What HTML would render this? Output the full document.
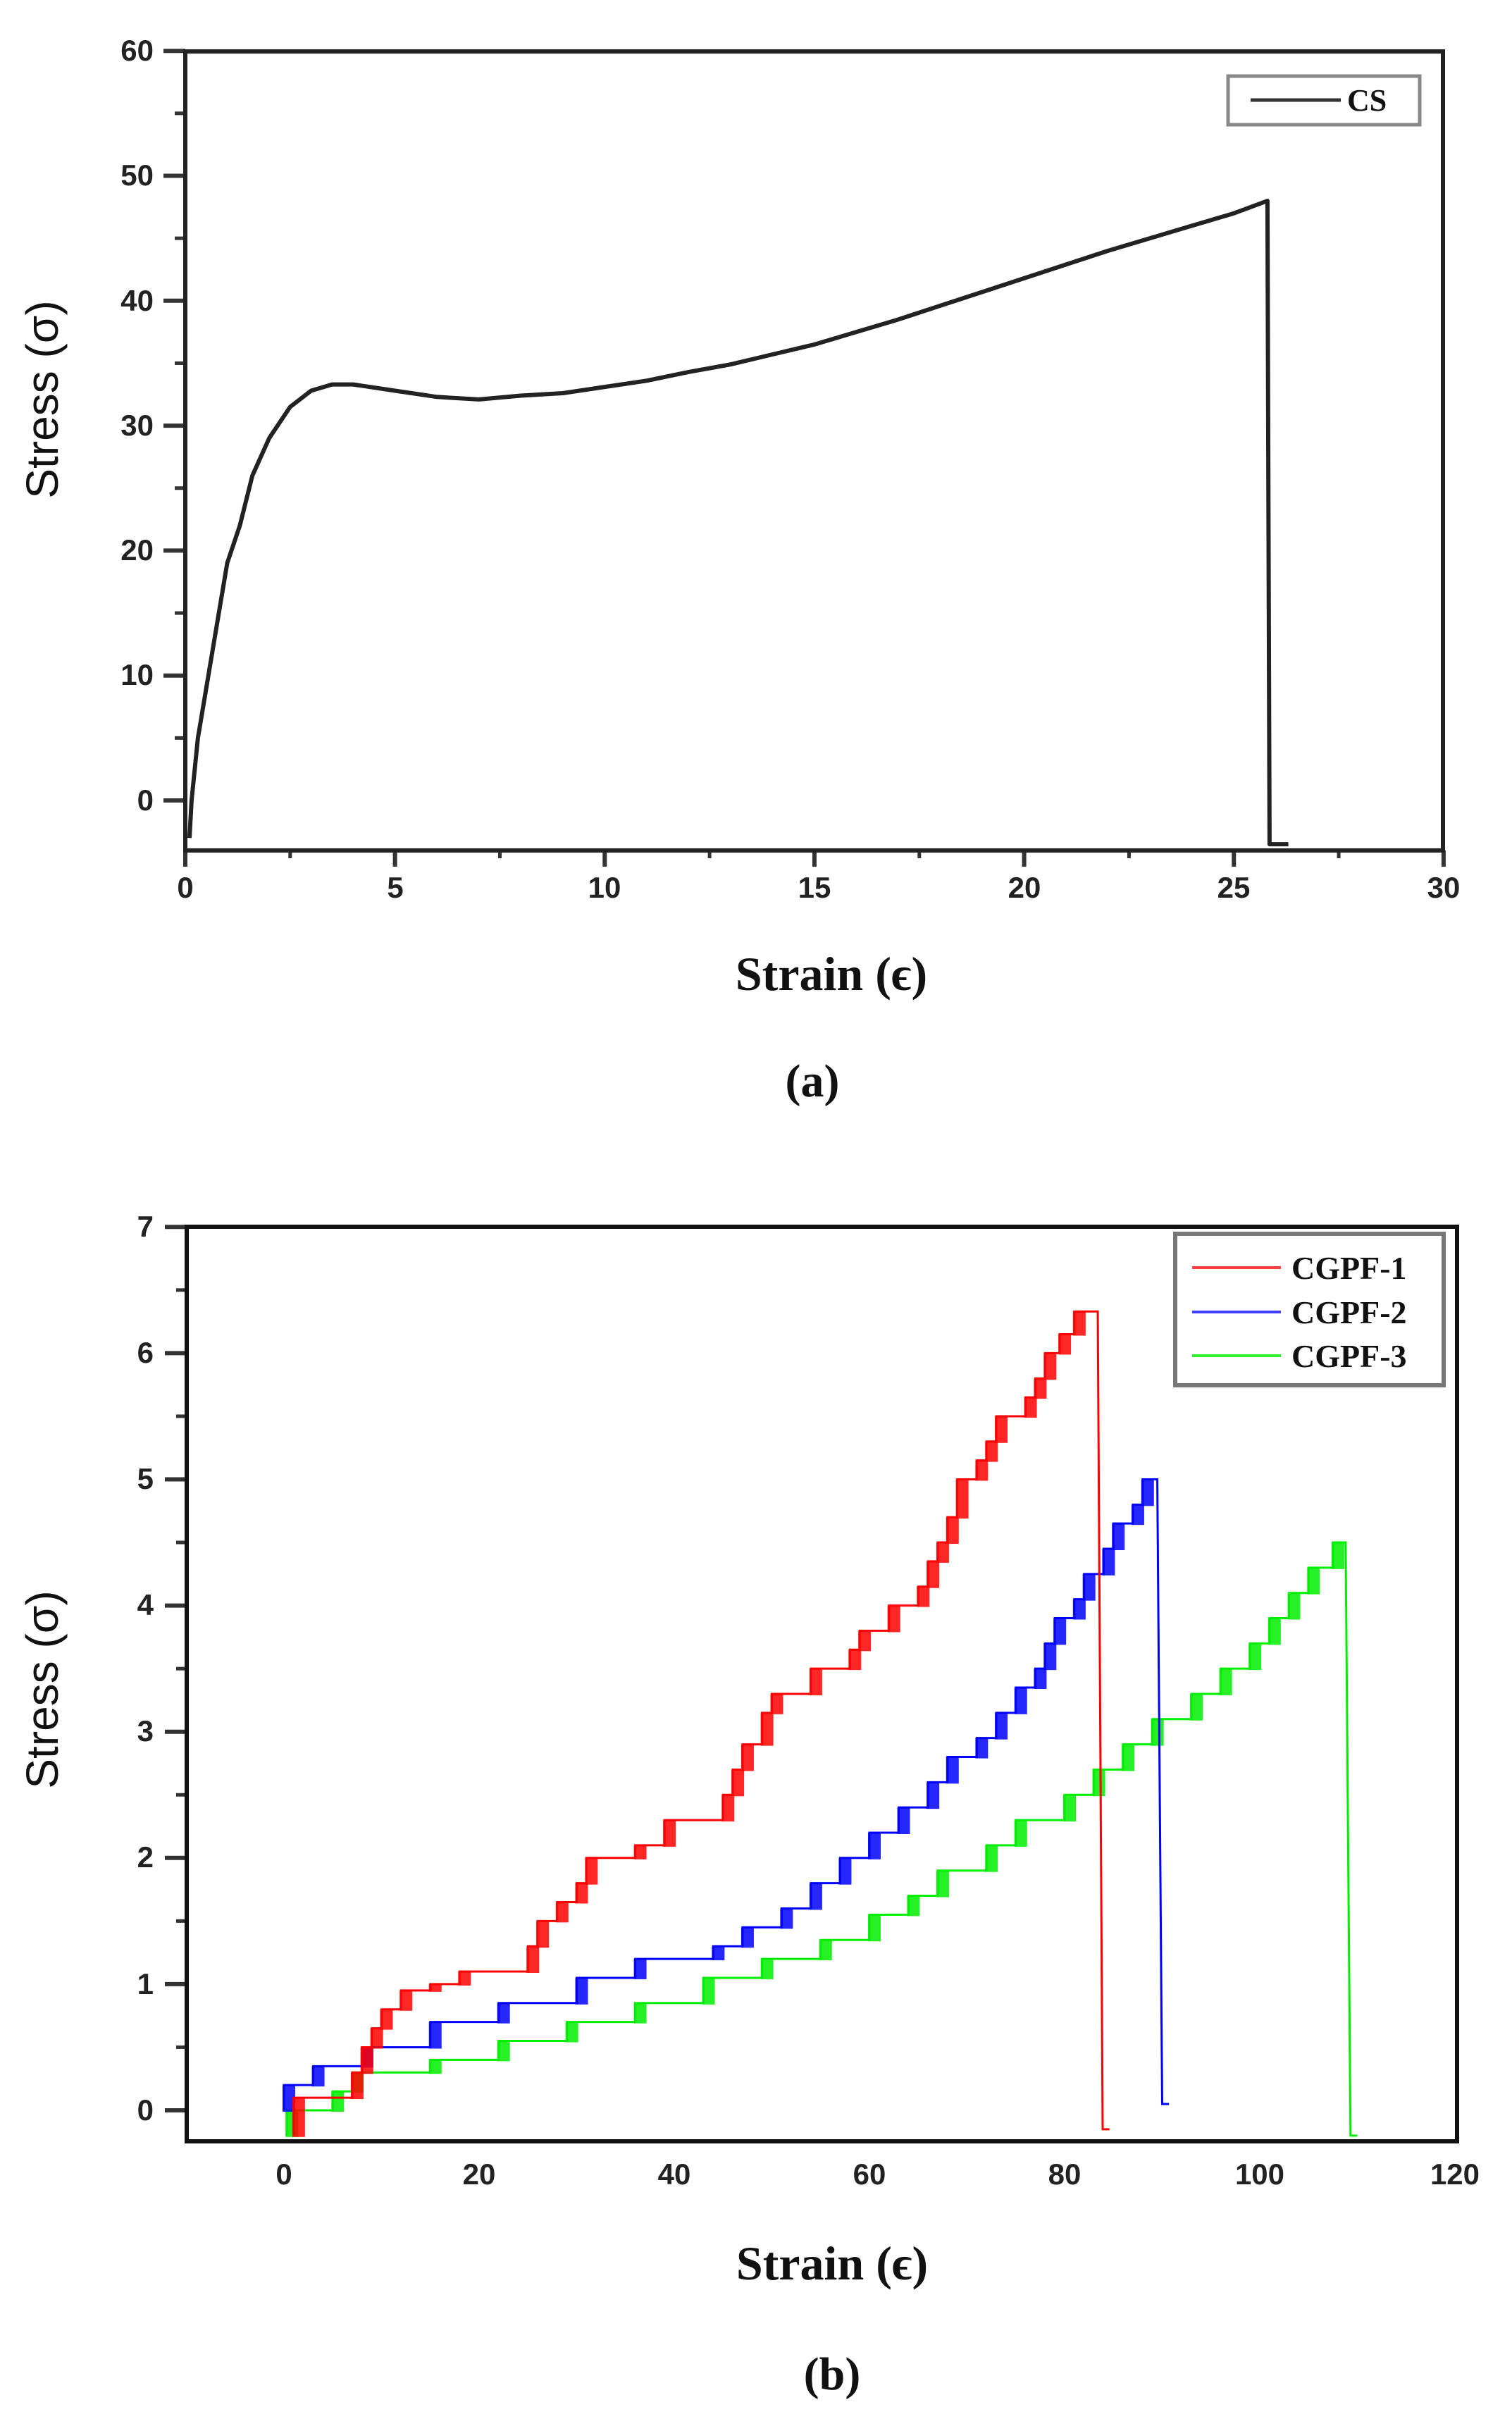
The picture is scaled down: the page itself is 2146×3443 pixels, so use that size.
<!DOCTYPE html>
<html><head><meta charset="utf-8"><style>
html,body{margin:0;padding:0;background:#fff}
svg{display:block}
.t{font-family:"Liberation Sans",Arial,sans-serif;font-weight:bold;font-size:42px;fill:#222}
.s{font-family:"Liberation Serif",serif;font-weight:bold;fill:#111}
</style></head><body>
<svg id="sv" width="2146" height="3443" viewBox="0 0 2146 3443" xmlns="http://www.w3.org/2000/svg">
<rect width="2146" height="3443" fill="#fff"/>
<g id="ga"></g>
<rect x="263" y="73" width="1785" height="1134" fill="none" stroke="#222" stroke-width="6"/>
<g class="t" text-anchor="end">
<text x="218" y="86">60</text><text x="218" y="263">50</text><text x="218" y="441">40</text>
<text x="218" y="618">30</text><text x="218" y="795">20</text><text x="218" y="972">10</text><text x="218" y="1150">0</text>
</g>
<g class="t" text-anchor="middle">
<text x="263" y="1274">0</text><text x="561" y="1274">5</text><text x="858" y="1274">10</text>
<text x="1156" y="1274">15</text><text x="1454" y="1274">20</text><text x="1751" y="1274">25</text><text x="2049" y="1274">30</text>
</g>
<rect x="1743" y="108" width="272" height="69" fill="#fff" stroke="#888" stroke-width="5"/>
<line x1="1775" y1="142" x2="1903" y2="142" stroke="#333" stroke-width="5"/>
<text class="s" x="1912" y="157" font-size="44">CS</text>
<text x="65" y="567" transform="rotate(-90 65 567)" text-anchor="middle" dominant-baseline="middle" font-family="Liberation Sans,Arial,sans-serif" font-size="64" fill="#111">Stress (σ)</text>
<text class="s" x="1180" y="1405" font-size="68" text-anchor="middle">Strain (ϵ)</text>
<text class="s" x="1153" y="1556" font-size="66" text-anchor="middle">(a)</text>

<g id="gb"></g>
<rect x="265" y="1741" width="1803" height="1298" fill="none" stroke="#111" stroke-width="6"/>
<g class="t" text-anchor="end">
<text x="218" y="1755">7</text><text x="218" y="1934">6</text><text x="218" y="2113">5</text><text x="218" y="2292">4</text>
<text x="218" y="2471">3</text><text x="218" y="2650">2</text><text x="218" y="2830">1</text><text x="218" y="3009">0</text>
</g>
<g class="t" text-anchor="middle">
<text x="403" y="3100">0</text><text x="680" y="3100">20</text><text x="957" y="3100">40</text><text x="1234" y="3100">60</text>
<text x="1511" y="3100">80</text><text x="1788" y="3100">100</text><text x="2065" y="3100">120</text>
</g>
<rect x="1668" y="1751" width="381" height="215" fill="#fff" stroke="#777" stroke-width="6"/>
<line x1="1692" y1="1799" x2="1818" y2="1799" stroke="#ff4040" stroke-width="4"/>
<line x1="1692" y1="1862" x2="1818" y2="1862" stroke="#4040ff" stroke-width="4"/>
<line x1="1692" y1="1924" x2="1818" y2="1924" stroke="#30ee30" stroke-width="4"/>
<g class="s" font-size="46"><text x="1833" y="1815">CGPF-1</text><text x="1833" y="1878">CGPF-2</text><text x="1833" y="1940">CGPF-3</text></g>
<text x="65" y="2398" transform="rotate(-90 65 2398)" text-anchor="middle" dominant-baseline="middle" font-family="Liberation Sans,Arial,sans-serif" font-size="64" fill="#111">Stress (σ)</text>
<text class="s" x="1181" y="3235" font-size="68" text-anchor="middle">Strain (ϵ)</text>
<text class="s" x="1181" y="3391" font-size="66" text-anchor="middle">(b)</text>
</svg>
<script>
var NS="http://www.w3.org/2000/svg";
function el(g,n,a){var e=document.createElementNS(NS,n);for(var k in a)e.setAttribute(k,a[k]);g.appendChild(e);return e;}
var ga=document.getElementById('ga');
function XA(x){return 263+59.53*x} function YA(y){return 1136-17.73*y}
for(var v=0;v<=60;v+=5){var big=v%10==0;el(ga,'line',{x1:big?232:248,x2:263,y1:YA(v),y2:YA(v),stroke:'#333','stroke-width':big?6:5});}
for(var v=0;v<=30;v+=2.5){var big=v%5==0;el(ga,'line',{x1:XA(v),x2:XA(v),y1:1207,y2:big?1230:1218,stroke:'#333','stroke-width':big?6:5});}
var cs=[[0.1,-3],[0.15,0],[0.3,5],[0.5,9],[0.8,15],[1.0,19],[1.3,22],[1.6,26],[2.0,29],[2.5,31.5],[3,32.8],[3.5,33.3],[4,33.3],[5,32.8],[6,32.3],[7,32.1],[8,32.4],[9,32.6],[10,33.1],[11,33.6],[12,34.3],[13,34.9],[14,35.7],[15,36.5],[16,37.5],[17,38.5],[18,39.6],[19,40.7],[20,41.8],[21,42.9],[22,44],[23,45],[24,46],[25,47],[25.8,48],[25.85,-3.5],[26.3,-3.5]];
el(ga,'polyline',{points:cs.map(function(p){return XA(p[0]).toFixed(1)+','+YA(p[1]).toFixed(1)}).join(' '),fill:'none',stroke:'#222','stroke-width':6,'stroke-linejoin':'round'});
var gb=document.getElementById('gb');
function XB(x){return 403+13.85*x} function YB(y){return 2995-179.1*y}
for(var v=0;v<=7;v+=0.5){var big=Math.abs(v-Math.round(v))<0.01;el(gb,'line',{x1:big?234:250,x2:265,y1:YB(v),y2:YB(v),stroke:'#333','stroke-width':big?6:5});}
function steps(pts,col,x0,y0,xd,yend,blk){
  var d='M'+XB(x0)+','+YB(y0),cx=x0,cy=y0;
  pts.forEach(function(p,i){
    var xs=p[0],ye=p[1];
    d+=' L'+XB(xs)+','+YB(cy)+' L'+XB(xs)+','+YB(ye);
    if(blk && i%blk==0){el(gb,'rect',{x:XB(xs)-2,y:YB(ye),width:18,height:Math.abs(YB(cy)-YB(ye))+2,fill:col,opacity:0.85});}
    cx=xs;cy=ye;
  });
  d+=' L'+XB(xd)+','+YB(cy)+' L'+XB(xd+0.5)+','+YB(yend)+' L'+XB(xd+1.2)+','+YB(yend);
  el(gb,'path',{d:d,fill:'none',stroke:col,'stroke-width':3});
}
var red=[[1,0.1],[7,0.3],[8,0.5],[9,0.65],[10,0.8],[12,0.95],[15,1.0],[18,1.1],[25,1.3],[26,1.5],[28,1.65],[30,1.8],[31,2.0],[36,2.1],[39,2.3],[45,2.5],[46,2.7],[47,2.9],[49,3.15],[50,3.3],[54,3.5],[58,3.65],[59,3.8],[62,4.0],[65,4.15],[66,4.35],[67,4.5],[68,4.7],[69,5.0],[71,5.15],[72,5.3],[73,5.5],[76,5.65],[77,5.8],[78,6.0],[79.5,6.15],[81,6.33]];
var blue=[[0,0.2],[3,0.35],[8,0.5],[15,0.7],[22,0.85],[30,1.05],[36,1.2],[44,1.3],[47,1.45],[51,1.6],[54,1.8],[57,2.0],[60,2.2],[63,2.4],[66,2.6],[68,2.8],[71,2.95],[73,3.15],[75,3.35],[77,3.5],[78,3.7],[79,3.9],[81,4.05],[82,4.25],[84,4.45],[85,4.65],[87,4.8],[88,5.0]];
var green=[[0.3,0],[5,0.15],[7,0.3],[15,0.4],[22,0.55],[29,0.7],[36,0.85],[43,1.05],[49,1.2],[55,1.35],[60,1.55],[64,1.7],[67,1.9],[72,2.1],[75,2.3],[80,2.5],[83,2.7],[86,2.9],[89,3.1],[93,3.3],[96,3.5],[99,3.7],[101,3.9],[103,4.1],[105,4.3],[107.5,4.5]];
steps(green,'#00ee00',0.3,-0.2,108.8,-0.2,1);
steps(blue,'#0000ff',0,0,89.5,0.05,1);
steps(red,'#ff0000',1,-0.2,83.4,-0.15,1);
</script>
</body></html>
